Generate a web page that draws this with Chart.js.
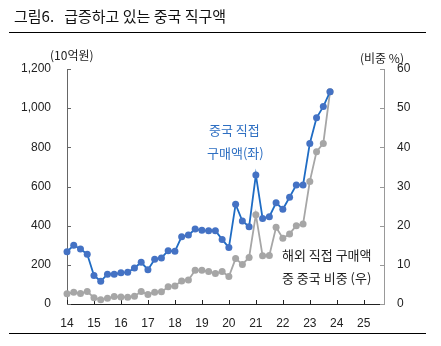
<!DOCTYPE html>
<html>
<head>
<meta charset="utf-8">
<script src="https://cdn.jsdelivr.net/npm/chart.js@4"></script>
<style>
body { margin: 0; background: #fff; font-family: "Noto Sans CJK KR", sans-serif; }
#wrap { position: relative; width: 441px; height: 346px; overflow: hidden; }
canvas { position: absolute; left: 0; top: 0; }
.t { position: absolute; white-space: nowrap; line-height: 1; }
.rule { position: absolute; left: 9px; width: 417px; height: 1px; background: #000; }
</style>
</head>
<body>
<div id="wrap">
  <canvas id="myChart" width="441" height="346"></canvas>
  <div class="t" style="left:14px;top:8px;font-size:15px;color:#111">그림6.&nbsp;&nbsp; 급증하고 있는 중국 직구액</div>
  <div class="rule" style="top:32px"></div>
  <div class="rule" style="top:333px"></div>
  <div class="t" style="left:50px;top:49px;font-size:12px;color:#222">(10억원)</div>
  <div class="t" style="left:360px;top:52px;font-size:12px;color:#222">(비중 %)</div>
  <div class="t" style="left:209px;top:123px;font-size:13px;color:#2e6fc2">중국 직접</div>
  <div class="t" style="left:207px;top:146px;font-size:13px;color:#2e6fc2">구매액(좌)</div>
  <div class="t" style="left:282px;top:248px;font-size:13px;color:#222">해외 직접 구매액</div>
  <div class="t" style="left:282px;top:271px;font-size:13px;color:#222">중 중국 비중 (우)</div>
</div>
<script>
// tick labels (years) and quarterly categories
const years = ["14", "15", "16", "17", "18", "19", "20", "21", "22", "23", "24", "25"];
const quarters = years.flatMap(y => ["Q1", "Q2", "Q3", "Q4"].map(q => y + q));

// 중국 직접 구매액 (10억원), 14Q1 ~ 23Q4
const chinaAmount = [
  267, 300, 281, 254, 146, 116, 152, 152, 160, 162,
  184, 213, 175, 228, 235, 272, 269, 344, 352, 383,
  376, 374, 374, 330, 288, 509, 424, 395, 659, 437,
  446, 517, 484, 545, 608, 608, 820, 951, 1008, 1084
];
// 해외 직접 구매액 중 중국 비중 (%)
const chinaShare = [
  2.6, 3.0, 2.7, 3.2, 1.6, 1.1, 1.5, 1.9, 1.8, 1.7,
  2.0, 3.2, 2.4, 3.0, 3.1, 4.4, 4.6, 5.9, 6.1, 8.6,
  8.6, 8.3, 7.8, 8.3, 7.0, 11.6, 10.1, 11.9, 22.8, 12.3,
  12.4, 19.6, 16.8, 17.9, 20.0, 20.4, 31.3, 38.9, 41.0, 54.2
];

const tickFont = { family: "'Liberation Sans', Arial, sans-serif", size: 12 };

// small tick marks pointing into the plot
const innerTicks = {
  id: "innerTicks",
  beforeDatasetsDraw(chart) {
    const c = chart.ctx;
    const { left, right, bottom } = chart.chartArea;
    const yl = chart.scales.y, yr = chart.scales.y2, x = chart.scales.x;
    c.save();
    c.lineWidth = 1;
    c.strokeStyle = "#666";
    yl.ticks.forEach(t => {
      const p = Math.round(yl.getPixelForValue(t.value)) + 0.5;
      c.beginPath(); c.moveTo(left, p); c.lineTo(left + 4, p); c.stroke();
    });
    c.strokeStyle = "#999";
    yr.ticks.forEach(t => {
      const p = Math.round(yr.getPixelForValue(t.value)) + 0.5;
      c.beginPath(); c.moveTo(right, p); c.lineTo(right - 4, p); c.stroke();
    });
    c.strokeStyle = "#222";
    years.forEach((y, i) => {
      const p = Math.round(x.getPixelForValue(i * 4)) + 0.5;
      c.beginPath(); c.moveTo(p, bottom); c.lineTo(p, bottom - 4); c.stroke();
    });
    c.restore();
  }
};

const data = {
  labels: quarters,
  datasets: [
    {
      label: "중국 직접 구매액(좌)",
      data: chinaAmount,
      yAxisID: "y",
      borderColor: "#1f6cc4",
      borderWidth: 1.8,
      backgroundColor: "#4472c4",
      pointBackgroundColor: "#4472c4",
      pointBorderColor: "#4472c4",
      pointRadius: 3.5,
      pointBorderWidth: 0,
      tension: 0,
      clip: 6,
    },
    {
      label: "해외 직접 구매액 중 중국 비중 (우)",
      data: chinaShare,
      yAxisID: "y2",
      borderColor: "#a6a6a6",
      borderWidth: 1.8,
      backgroundColor: "#a6a6a6",
      pointBackgroundColor: "#a6a6a6",
      pointBorderColor: "#a6a6a6",
      pointRadius: 3.5,
      pointBorderWidth: 0,
      tension: 0,
      clip: 6,
    },
  ],
};

const config = {
  type: "line",
  data: data,
  options: {
    responsive: false,
    animation: false,
    layout: { padding: { top: 69, left: 0, right: 0, bottom: 0 } },
    plugins: { legend: { display: false }, tooltip: { enabled: false } },
    scales: {
      x: {
        offset: false,
        grid: { display: false, drawTicks: false },
        border: { display: true, color: "#222", width: 1 },
        ticks: {
          autoSkip: false,
          maxRotation: 0,
          padding: 12,
          color: "#222",
          font: tickFont,
          callback: (v, i) => (i % 4 === 0 ? years[i / 4] : null),
        },
        afterFit: s => { s.height = 42; },
      },
      y: {
        position: "left",
        min: 0,
        max: 1200,
        grid: { display: false, drawTicks: false },
        border: { display: true, color: "#666", width: 1 },
        ticks: { stepSize: 200, padding: 16, color: "#222", font: tickFont },
        afterFit: s => { s.width = 67; },
      },
      y2: {
        position: "right",
        min: 0,
        max: 60,
        grid: { display: false, drawTicks: false },
        border: { display: true, color: "#999", width: 1 },
        ticks: { stepSize: 10, padding: 13, color: "#222", font: tickFont },
        afterFit: s => { s.width = 57; },
      },
    },
  },
  plugins: [innerTicks],
};

const ctx = document.getElementById("myChart");
const myChart = new Chart(ctx, config);
</script>
</body>
</html>
